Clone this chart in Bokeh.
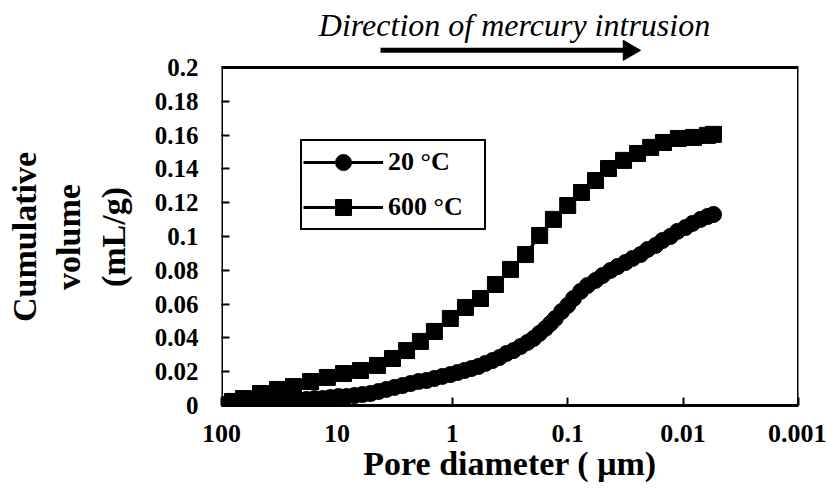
import math
from bokeh.plotting import figure
from bokeh.models import (FixedTicker, CustomJSTickFormatter, Legend, LegendItem, Range1d)
from bokeh.core.properties import value
from bokeh.embed import file_html
from bokeh.resources import INLINE

# ---- data ----
pore_20 = [100, 87.0, 75.6, 65.8, 56.1, 47.8, 40.7, 34.7, 29.6, 25.2,
           21.5, 18.3, 15.6, 13.3, 11.4, 9.68, 8.26, 7.04, 6.00, 5.11,
           4.36, 3.72, 3.17, 2.70, 2.30, 1.96, 1.67, 1.43, 1.22, 1.04,
           0.901, 0.784, 0.682, 0.593, 0.516, 0.448, 0.390, 0.339, 0.295, 0.256,
           0.223, 0.198, 0.176, 0.156, 0.141, 0.128, 0.113, 0.100, 0.0891, 0.0774,
           0.0674, 0.0574, 0.0499, 0.0426, 0.0370, 0.0316, 0.0274, 0.0234, 0.0203, 0.0173,
           0.0151, 0.0129, 0.0112, 0.00953, 0.00829, 0.00706, 0.00615, 0.00545]
vol_20 = [0.0006, 0.0006, 0.0012, 0.0012, 0.0018, 0.0018, 0.0024, 0.0024, 0.0030, 0.0030,
          0.0036, 0.0036, 0.0041, 0.0041, 0.0047, 0.0053, 0.0053, 0.0059, 0.0065, 0.0071,
          0.0083, 0.0095, 0.0107, 0.0118, 0.0130, 0.0142, 0.0148, 0.0160, 0.0172, 0.0183,
          0.0195, 0.0207, 0.0219, 0.0231, 0.0249, 0.0266, 0.0284, 0.0308, 0.0325, 0.0349,
          0.0373, 0.0396, 0.0426, 0.0456, 0.0485, 0.0515, 0.0556, 0.0592, 0.0633, 0.0675,
          0.0710, 0.0740, 0.0769, 0.0799, 0.0822, 0.0846, 0.0870, 0.0893, 0.0923, 0.0947,
          0.0976, 0.1000, 0.1030, 0.1053, 0.1077, 0.1101, 0.1118, 0.1130]

pore_600 = [100, 80.3, 64.5, 45.9, 32.7, 23.8, 16.9, 12.1, 8.77, 6.24, 4.45, 3.30,
            2.49, 1.89, 1.43, 1.04, 0.769, 0.570, 0.423, 0.313, 0.232, 0.175, 0.133,
            0.100, 0.0759, 0.0574, 0.0443, 0.0328, 0.0248, 0.0191, 0.0148, 0.0110,
            0.00813, 0.00615, 0.00546]
vol_600 = [0.0006, 0.0024, 0.0041, 0.0071, 0.0095, 0.0112, 0.0142, 0.0166, 0.0189,
           0.0207, 0.0237, 0.0278, 0.0325, 0.0379, 0.0438, 0.0515, 0.0580, 0.0633,
           0.0716, 0.0805, 0.0893, 0.1006, 0.1101, 0.1183, 0.1260, 0.1331, 0.1402,
           0.1450, 0.1491, 0.1527, 0.1556, 0.1580, 0.1586, 0.1598, 0.1604]

x_ticks = [100, 10, 1, 0.1, 0.01, 0.001]
x_tick_labels = ["100", "10", "1", "0.1", "0.01", "0.001"]
y_ticks = [0, 0.02, 0.04, 0.06, 0.08, 0.1, 0.12, 0.14, 0.16, 0.18, 0.2]
y_tick_labels = ["0", "0.02", "0.04", "0.06", "0.08", "0.1", "0.12", "0.14",
                 "0.16", "0.18", "0.2"]

series_labels = ["20 \u00b0C", "600 \u00b0C"]
title_text = "Direction of mercury intrusion"
x_title = "Pore diameter ( \u03bcm)"
y_title_lines = ["Cumulative", "volume", "(mL/g)"]

# axis box extent
X_MAX, X_MIN = 100, 0.001
Y_MIN, Y_MAX = 0, 0.2
Y_TOP = 0.2396   # frame reaches up to the page top, so the header sits inside it

# header anchors (pore diameter, volume units above the box)
title_x, title_y = 0.289, 0.2254
arrow_from, arrow_shaft_end, arrow_head_at, arrow_y = 4.19, 0.0316, 0.0294, 0.2101

FONT = "Liberation Serif"

p = figure(width=826, height=488, x_axis_type="log", x_range=Range1d(X_MAX, X_MIN),
           y_range=Range1d(Y_MIN, Y_TOP), output_backend="svg", toolbar_location=None,
           title=None, min_border_left=221, min_border_right=28,
           min_border_top=0, min_border_bottom=83)

p.grid.visible = False
p.outline_line_color = None
p.background_fill_color = "white"
p.border_fill_color = "white"

fmt_js = """
const i = vals.findIndex(v => Math.abs(v - tick) <= 1e-9 * Math.max(1, Math.abs(v)) || (v > 0 && tick > 0 && Math.abs(Math.log10(v) - Math.log10(tick)) < 1e-6));
return i >= 0 ? labs[i] : "";
"""

for ax in (p.xaxis[0], p.yaxis[0]):
    ax.axis_line_width = 3
    ax.axis_line_color = "black"
    ax.major_tick_in = 8
    ax.major_tick_out = 0
    ax.major_tick_line_width = 2
    ax.minor_tick_line_color = None
    ax.major_label_text_font = FONT
    ax.major_label_text_font_style = "bold"
    ax.major_label_text_color = "black"
    ax.axis_label_text_font = FONT
    ax.axis_label_text_font_style = "bold"
    ax.axis_label_text_font_size = "34px"
    ax.axis_label_text_color = "black"

p.xaxis.ticker = FixedTicker(ticks=x_ticks)
p.xaxis.formatter = CustomJSTickFormatter(args=dict(vals=x_ticks, labs=x_tick_labels), code=fmt_js)
p.xaxis.major_label_text_font_size = "26px"
p.xaxis.major_label_standoff = 19
p.xaxis.axis_label = x_title
p.xaxis.axis_label_standoff = 0

p.yaxis.axis_line_color = None   # the box below draws the left edge
p.yaxis.ticker = FixedTicker(ticks=y_ticks)
p.yaxis.formatter = CustomJSTickFormatter(args=dict(vals=y_ticks, labs=y_tick_labels), code=fmt_js)
p.yaxis.major_label_text_font_size = "25px"
p.yaxis.major_label_standoff = 23
# trailing no-break spaces move the centred label down to the middle of the box
p.yaxis.axis_label = "\n".join(t + "\u00a0" * 8 for t in y_title_lines)
p.yaxis.axis_label_standoff = 20

# axis box
p.quad(left=[X_MAX], right=[X_MIN], bottom=[Y_MIN], top=[Y_MAX], fill_color=None,
       line_color="black", line_width=3)

# series
l20 = p.line(pore_20, vol_20, line_color="black", line_width=3)
s20 = p.scatter(pore_20, vol_20, marker="circle", size=16, fill_color="black", line_color="black")
l600 = p.line(pore_600, vol_600, line_color="black", line_width=3)
s600 = p.scatter(pore_600, vol_600, marker="square", size=16, fill_color="black", line_color="black")

legend = Legend(items=[LegendItem(label=series_labels[0], renderers=[l20, s20]),
                       LegendItem(label=series_labels[1], renderers=[l600, s600])],
                location=(79, 175), glyph_width=80, glyph_height=40, label_height=40,
                label_width=95, spacing=5, padding=1, margin=0, label_standoff=5,
                border_line_color="black", border_line_width=2, border_line_alpha=1,
                label_text_font=FONT, label_text_font_style="bold",
                label_text_font_size="26px", label_text_color="black",
                background_fill_color="white", background_fill_alpha=1)
p.add_layout(legend)

# header: "Direction of mercury intrusion" + arrow
p.text(x=[title_x], y=[title_y], text=[title_text], text_font=value(FONT),
       text_font_style="italic", text_font_size="32px", text_color="black",
       text_align="center", text_baseline="middle")
p.segment(x0=[arrow_from], y0=[arrow_y], x1=[arrow_shaft_end], y1=[arrow_y],
          line_color="black", line_width=5)
p.scatter(x=[arrow_head_at], y=[arrow_y], marker="triangle", size=20,
          angle=-math.pi / 2, fill_color="black", line_color="black")

open("out.html", "w").write(file_html(p, INLINE))
